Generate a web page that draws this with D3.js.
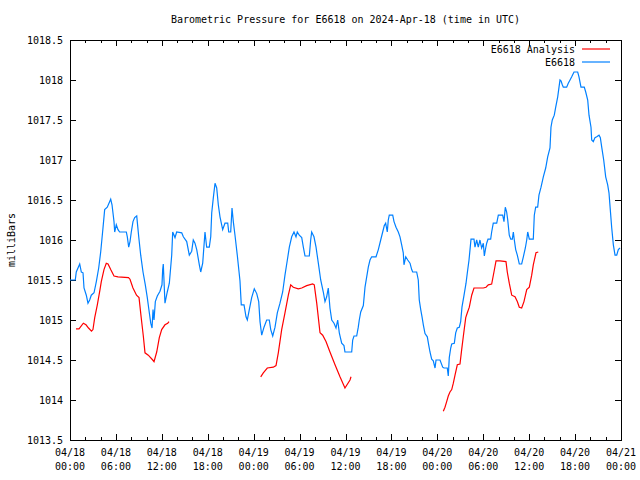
<!DOCTYPE html>
<html>
<head>
<meta charset="utf-8">
<script src="https://cdn.jsdelivr.net/npm/d3@7"></script>
<style>
  html, body { margin: 0; padding: 0; background: #fff; }
  svg text { font-family: "DejaVu Sans Mono", "Liberation Mono", monospace; font-size: 10px; fill: #000; }
</style>
</head>
<body>
<svg id="chart" width="640" height="480"></svg>
<script>
// ---- Data (hours since 2024-04-18 00:00 UTC, pressure in millibars) ----
const stationHours = [0,0.69,0.82,1.27,1.48,1.70,1.83,2.13,2.35,2.57,2.78,3.14,3.44,3.75,4.01,4.31,4.53,4.87,5.19,5.32,5.49,5.75,5.84,6.05,6.27,6.49,7.36,7.49,7.67,7.84,8.01,8.23,8.45,8.72,8.79,8.98,9.24,9.54,9.84,10.10,10.28,10.55,10.72,10.85,10.98,11.15,11.41,11.76,12.02,12.11,12.19,12.41,12.71,12.98,13.29,13.42,13.72,13.94,14.60,14.81,15.25,15.59,15.90,16.11,16.33,16.56,16.90,17.08,17.34,17.64,17.86,18.20,18.39,18.52,18.73,18.95,19.17,19.38,19.60,19.95,20.25,20.61,20.74,21.00,21.17,21.34,21.56,21.86,22.21,22.38,22.74,23.00,23.17,23.43,23.74,24.08,24.40,24.66,24.83,25.05,25.35,25.70,26.04,26.23,26.49,26.79,27.09,27.44,27.79,28.09,28.40,28.66,28.97,29.27,29.53,29.70,29.96,30.28,30.49,30.71,31.27,31.45,31.58,31.88,32.15,32.45,32.76,33.10,33.32,33.54,33.75,33.97,34.20,34.50,34.76,34.98,35.19,35.50,35.80,35.93,36.81,36.94,37.11,37.46,37.67,37.80,37.99,38.33,38.55,38.77,38.98,39.20,39.42,39.99,40.29,40.60,40.86,41.07,41.25,41.46,41.59,41.72,42.17,42.34,42.60,42.90,43.12,43.34,43.55,43.64,43.87,44.13,44.43,44.65,44.78,45.30,45.51,45.64,45.83,46.00,46.17,46.39,46.69,46.87,47.04,47.26,47.47,47.70,47.83,48.35,48.70,48.87,49.30,49.43,49.56,49.75,49.88,50.22,50.40,50.61,50.87,51.05,51.22,51.49,51.75,51.92,52.14,52.27,52.40,52.79,52.92,53.14,53.35,53.57,53.79,54.01,54.14,54.32,54.45,54.62,54.97,55.10,55.31,55.76,55.97,56.54,56.71,56.88,57.06,57.20,57.40,57.59,57.80,57.93,58.06,58.24,58.45,58.71,59.02,59.24,59.50,59.68,59.81,60.02,60.54,60.67,60.85,61.11,61.28,61.55,61.85,62.16,62.42,62.72,62.85,63.02,63.28,63.47,63.73,63.90,64.03,64.16,64.33,64.46,64.90,65.11,65.34,65.56,65.86,66.34,66.51,66.77,67.20,67.39,67.65,67.82,68.08,68.17,68.38,68.60,68.83,69.13,69.30,69.48,69.74,70.00,70.26,70.43,70.60,70.78,71.00,71.22,71.44,71.65,71.87];
const stationValues = [1015.5,1015.5,1015.6,1015.7,1015.6,1015.59,1015.4,1015.31,1015.21,1015.25,1015.31,1015.34,1015.48,1015.65,1015.85,1016.15,1016.38,1016.41,1016.48,1016.51,1016.44,1016.23,1016.1,1016.19,1016.13,1016.1,1016.1,1016.04,1015.91,1015.98,1016.1,1016.23,1016.28,1016.3,1016.23,1016.04,1015.81,1015.6,1015.44,1015.28,1015.15,1014.96,1014.9,1015.13,1015.0,1015.23,1015.3,1015.36,1015.44,1015.63,1015.7,1015.21,1015.35,1015.46,1015.81,1016.1,1016.03,1016.1,1016.09,1016.04,1015.98,1015.81,1015.86,1016.0,1015.96,1015.88,1015.69,1015.6,1015.71,1016.1,1015.91,1015.91,1016.04,1016.34,1016.53,1016.71,1016.65,1016.44,1016.29,1016.13,1016.21,1016.21,1016.1,1016.1,1016.4,1016.23,1016.06,1015.81,1015.49,1015.19,1015.19,1015.04,1015.0,1015.13,1015.28,1015.39,1015.33,1015.23,1014.98,1014.81,1014.91,1015.0,1015.0,1014.88,1014.8,1014.91,1015.09,1015.21,1015.35,1015.56,1015.75,1015.91,1016.04,1016.1,1016.04,1016.1,1016.06,1016.03,1015.91,1015.8,1015.8,1016.0,1016.1,1016.04,1015.91,1015.71,1015.5,1015.35,1015.23,1015.29,1015.4,1015.15,1015.0,1014.96,1014.9,1015.0,1014.84,1014.71,1014.68,1014.6,1014.6,1014.75,1014.8,1014.8,1014.91,1015.0,1015.1,1015.18,1015.41,1015.54,1015.66,1015.75,1015.79,1015.79,1015.88,1016.0,1016.1,1016.18,1016.21,1016.1,1016.25,1016.31,1016.31,1016.23,1016.16,1016.1,1016.04,1015.94,1015.84,1015.69,1015.79,1015.75,1015.71,1015.63,1015.6,1015.6,1015.5,1015.25,1015.13,1015.04,1014.94,1014.83,1014.79,1014.69,1014.6,1014.51,1014.49,1014.4,1014.5,1014.5,1014.41,1014.4,1014.4,1014.3,1014.53,1014.65,1014.7,1014.71,1014.84,1014.9,1014.91,1014.98,1015.16,1015.31,1015.46,1015.59,1015.75,1015.88,1016.01,1016.01,1015.91,1016.0,1015.91,1016.0,1015.9,1015.96,1015.8,1015.9,1015.96,1016.01,1016.01,1016.1,1016.21,1016.21,1016.31,1016.31,1016.23,1016.41,1016.35,1016.25,1016.06,1016.01,1016.01,1016.1,1016.0,1015.88,1015.81,1015.7,1015.7,1015.79,1015.9,1016.0,1016.1,1016.01,1016.01,1016.31,1016.41,1016.41,1016.56,1016.66,1016.79,1016.9,1017.04,1017.15,1017.41,1017.5,1017.56,1017.66,1017.79,1017.91,1018.0,1017.99,1017.94,1017.91,1017.91,1017.96,1018.0,1018.04,1018.1,1018.1,1018.04,1017.91,1017.91,1017.85,1017.75,1017.56,1017.41,1017.25,1017.23,1017.28,1017.29,1017.31,1017.28,1017.16,1017.0,1016.79,1016.69,1016.59,1016.38,1016.16,1015.94,1015.81,1015.81,1015.88,1015.9];

// Analysis series: three separate runs
const analysisHours1 = [0.78,1.18,1.74,2.09,2.42,2.81,3.0,3.23,3.57,3.92,4.09,4.44,4.74,4.97,5.32,5.75,6.27,7.64,7.84,8.23,8.69,9.02,9.28,9.58,9.80,10.23,10.81,10.98,11.33,11.67,11.98,12.41,12.77,12.94];
const analysisValues1 = [1014.89,1014.89,1014.96,1014.94,1014.9,1014.86,1014.88,1015.03,1015.19,1015.38,1015.48,1015.63,1015.71,1015.7,1015.63,1015.55,1015.54,1015.53,1015.51,1015.4,1015.31,1015.28,1015.05,1014.8,1014.59,1014.56,1014.5,1014.48,1014.6,1014.78,1014.88,1014.94,1014.96,1014.98];
const analysisHours2 = [24.92,25.26,25.78,26.57,26.92,27.22,27.66,28.09,28.53,28.84,29.18,29.83,30.28,30.93,31.71,31.92,32.24,32.67,33.02,33.45,33.97,34.63,35.28,35.93,36.59,36.72];
const analysisValues2 = [1014.29,1014.34,1014.4,1014.41,1014.43,1014.59,1014.88,1015.09,1015.31,1015.44,1015.41,1015.39,1015.4,1015.43,1015.45,1015.44,1015.21,1014.84,1014.81,1014.73,1014.6,1014.44,1014.29,1014.15,1014.25,1014.29];
const analysisHours3 = [48.78,49.0,49.22,49.43,49.65,49.88,50.09,50.31,50.61,50.96,51.18,51.39,51.71,51.92,52.18,52.49,52.79,54.01,54.36,54.66,55.10,55.40,55.67,56.19,56.97,57.14,57.40,57.72,58.15,58.45,58.71,59.02,59.32,59.68,60.02,60.33,60.54,60.89,61.19];
const analysisValues3 = [1013.86,1013.91,1013.98,1014.05,1014.1,1014.13,1014.21,1014.31,1014.44,1014.45,1014.63,1014.79,1015.03,1015.09,1015.16,1015.31,1015.4,1015.4,1015.41,1015.44,1015.45,1015.6,1015.74,1015.74,1015.73,1015.6,1015.46,1015.31,1015.29,1015.23,1015.16,1015.15,1015.23,1015.38,1015.41,1015.56,1015.69,1015.84,1015.85];

const xTickHours = [0,6,12,18,24,30,36,42,48,54,60,66,72];
const xTickDates = ["04/18","04/18","04/18","04/18","04/19","04/19","04/19","04/19","04/20","04/20","04/20","04/20","04/21"];
const xTickTimes = ["00:00","06:00","12:00","18:00","00:00","06:00","12:00","18:00","00:00","06:00","12:00","18:00","00:00"];
const xMinorHours = [2,4,8,10,14,16,20,22,26,28,32,34,38,40,44,46,50,52,56,58,62,64,68,70];
const yTicks = [1013.5,1014,1014.5,1015,1015.5,1016,1016.5,1017,1017.5,1018,1018.5];

const titleText = "Barometric Pressure for E6618 on 2024-Apr-18 (time in UTC)";
const yLabelText = "milliBars";
const seriesNames = ["E6618 Analysis", "E6618"];
const seriesColors = ["#ff0000", "#0080ff"];

// ---- Drawing ----
const svg = d3.select("#chart");
const L = 70, R = 621, T = 40, B = 440;
const x = d3.scaleLinear().domain([0, 72]).range([L, R]);
const y = d3.scaleLinear().domain([1013.5, 1018.5]).range([B, T]);

// Axes: ticks inward on all four sides
const gBottom = svg.append("g").attr("transform", `translate(0,${B})`)
  .call(d3.axisBottom(x).tickValues(xTickHours).tickSize(-6).tickFormat(""));
const gBottomMinor = svg.append("g").attr("transform", `translate(0,${B})`)
  .call(d3.axisBottom(x).tickValues(xMinorHours).tickSize(-3).tickFormat(""));
const gTop = svg.append("g").attr("transform", `translate(0,${T})`)
  .call(d3.axisTop(x).tickValues(xTickHours).tickSize(-6).tickFormat(""));
const gTopMinor = svg.append("g").attr("transform", `translate(0,${T})`)
  .call(d3.axisTop(x).tickValues(xMinorHours).tickSize(-3).tickFormat(""));
const gLeft = svg.append("g").attr("transform", `translate(${L},0)`)
  .call(d3.axisLeft(y).tickValues(yTicks).tickSize(-6).tickFormat(""));
const gRight = svg.append("g").attr("transform", `translate(${R},0)`)
  .call(d3.axisRight(y).tickValues(yTicks).tickSize(-6).tickFormat(""));
svg.selectAll(".domain").remove();
svg.selectAll(".tick line").attr("stroke", "#000").attr("shape-rendering", "crispEdges");

// Tick labels
svg.append("g").selectAll("text").data(yTicks).join("text")
  .attr("x", L - 7).attr("y", d => y(d)).attr("dy", "0.35em")
  .attr("text-anchor", "end").text(d => d3.format("")(d));

const xl = svg.append("g").selectAll("g").data(xTickHours).join("g")
  .attr("transform", d => `translate(${x(d)},0)`);
xl.append("text").attr("y", B + 16).attr("text-anchor", "middle").text((d, i) => xTickDates[i]);
xl.append("text").attr("y", B + 30).attr("text-anchor", "middle").text((d, i) => xTickTimes[i]);

// Frame
svg.append("rect").attr("x", L + 0.5).attr("y", T + 0.5).attr("width", R - L).attr("height", B - T)
  .attr("fill", "none").attr("stroke", "#000").attr("shape-rendering", "crispEdges");

// Title and y label
svg.append("text").attr("x", (L + R) / 2).attr("y", 23).attr("text-anchor", "middle").text(titleText);
svg.append("text").attr("transform", `translate(15,${(T + B) / 2}) rotate(-90)`)
  .attr("text-anchor", "middle").text(yLabelText);

// Lines
const line = d3.line().x(d => x(d[0])).y(d => y(d[1]));
const zip = (a, b) => a.map((h, i) => [h, b[i]]);
[[analysisHours1, analysisValues1], [analysisHours2, analysisValues2], [analysisHours3, analysisValues3]]
  .forEach(([h, v]) => {
    svg.append("path").datum(zip(h, v)).attr("d", line)
      .attr("fill", "none").attr("stroke", seriesColors[0]).attr("stroke-width", 1.2);
  });
svg.append("path").datum(zip(stationHours, stationValues)).attr("d", line)
  .attr("fill", "none").attr("stroke", seriesColors[1]).attr("stroke-width", 1.2);

// Legend
const leg = svg.append("g");
seriesNames.forEach((name, i) => {
  const yy = 49 + i * 13;
  leg.append("text").attr("x", 575).attr("y", yy).attr("dy", "0.35em").attr("text-anchor", "end").text(name);
  leg.append("line").attr("x1", 582).attr("x2", 610).attr("y1", yy).attr("y2", yy)
    .attr("stroke", seriesColors[i]).attr("stroke-width", 1.2);
});
</script>
</body>
</html>
